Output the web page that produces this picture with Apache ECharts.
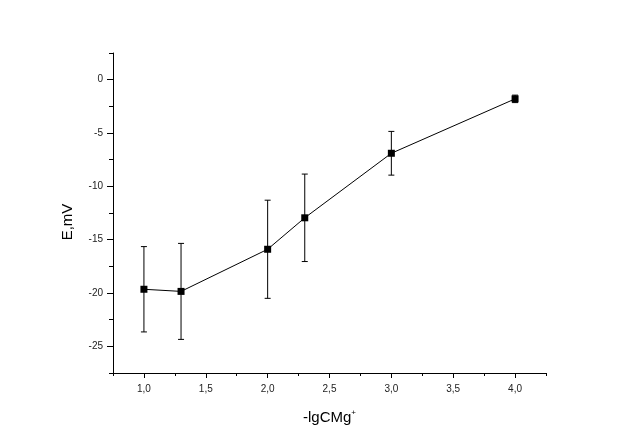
<!DOCTYPE html>
<html><head><meta charset="utf-8">
<script src="https://cdn.jsdelivr.net/npm/echarts@6/dist/echarts.min.js"></script>
<style>html,body{margin:0;padding:0;background:#fff}#c{width:634px;height:446px}</style>
</head><body><div id="c"></div>
<script>
// Data
const xValues = [1.0, 1.3, 2.0, 2.3, 3.0, 4.0];
const yValues = [-19.65, -19.85, -15.9, -12.95, -6.9, -1.8];
const yErrors = [4.0, 4.5, 4.6, 4.1, 2.05, 0.35];
const xMajorTicks = [1.0, 1.5, 2.0, 2.5, 3.0, 3.5, 4.0];
const xMinorTicks = [0.75, 1.25, 1.75, 2.25, 2.75, 3.25, 3.75, 4.25];
const yMajorTicks = [-25, -20, -15, -10, -5, 0];
const yMinorTicks = [-27.5, -22.5, -17.5, -12.5, -7.5, -2.5, 2.5];

const font = 'Liberation Sans, Arial, sans-serif';
const chart = echarts.init(document.getElementById('c'), null, {renderer: 'canvas'});
const axisLine = {show: true, onZero: false, lineStyle: {color: '#000', width: 1}};

const option = {
  backgroundColor: '#fff',
  animation: false,
  grid: {left: 113, top: 53, right: 88, bottom: 73, containLabel: false},
  xAxis: [{
    type: 'value', min: 0.75, max: 4.25, position: 'bottom',
    axisLine: axisLine,
    axisTick: {show: true, customValues: xMajorTicks, length: 5, lineStyle: {color: '#000'}},
    axisLabel: {show: true, customValues: xMajorTicks, margin: 11, fontSize: 10, color: '#222', fontFamily: font,
      formatter: v => v.toFixed(1).replace('.', ',')},
    splitLine: {show: false},
    name: '-lgCMg{sup|+}', nameLocation: 'middle', nameGap: 36,
    nameTextStyle: {fontSize: 15, color: '#000', fontFamily: font,
      rich: {sup: {fontSize: 8, verticalAlign: 'top', color: '#000', padding: [0, 0, 10, 0], fontFamily: font}}}
  }, {
    type: 'value', min: 0.75, max: 4.25, position: 'bottom',
    axisLine: {show: false, onZero: false},
    axisTick: {show: true, customValues: xMinorTicks, length: 3, lineStyle: {color: '#000'}},
    axisLabel: {show: false},
    splitLine: {show: false}
  }],
  yAxis: [{
    type: 'value', min: -27.5, max: 2.5, position: 'left',
    axisLine: axisLine,
    axisTick: {show: true, customValues: yMajorTicks, length: 6, lineStyle: {color: '#000'}},
    axisLabel: {show: true, customValues: yMajorTicks, margin: 10, fontSize: 10, color: '#222', fontFamily: font},
    splitLine: {show: false},
    name: 'E,mV', nameLocation: 'middle', nameGap: 38,
    nameTextStyle: {fontSize: 15, color: '#000', fontFamily: font, padding: [0, 18, 0, 0]}
  }, {
    type: 'value', min: -27.5, max: 2.5, position: 'left',
    axisLine: {show: false, onZero: false},
    axisTick: {show: true, customValues: yMinorTicks, length: 4, lineStyle: {color: '#000'}},
    axisLabel: {show: false},
    splitLine: {show: false}
  }],
  series: [{
    type: 'custom',
    xAxisIndex: 0, yAxisIndex: 0,
    data: xValues.map((x, i) => [x, yValues[i] - yErrors[i], yValues[i] + yErrors[i]]),
    renderItem: function (params, api) {
      const lo = api.coord([api.value(0), api.value(1)]);
      const hi = api.coord([api.value(0), api.value(2)]);
      const hw = 3;
      const st = {stroke: '#000', lineWidth: 1};
      return {type: 'group', children: [
        {type: 'line', shape: {x1: lo[0], y1: lo[1], x2: hi[0], y2: hi[1]}, style: st},
        {type: 'line', shape: {x1: lo[0] - hw, y1: lo[1], x2: lo[0] + hw, y2: lo[1]}, style: st},
        {type: 'line', shape: {x1: hi[0] - hw, y1: hi[1], x2: hi[0] + hw, y2: hi[1]}, style: st}
      ]};
    },
    z: 2
  }, {
    type: 'line',
    xAxisIndex: 0, yAxisIndex: 0,
    data: xValues.map((x, i) => [x, yValues[i]]),
    symbol: 'rect', symbolSize: 7,
    lineStyle: {color: '#000', width: 1},
    itemStyle: {color: '#000'},
    z: 3
  }]
};
chart.setOption(option);
</script>
</body></html>
